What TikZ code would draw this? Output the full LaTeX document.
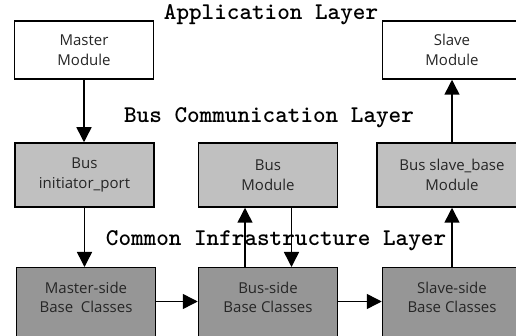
\documentclass[tikz,border=0pt]{standalone}
\usepackage{fontspec}
\setmainfont{Open Sans}
\newfontfamily\layerfamily{lmmonolt10-bold.otf}
\usetikzlibrary{arrows.meta}

\definecolor{busgray}{HTML}{C0C0C0}
\definecolor{basegray}{HTML}{969696}

\begin{document}
\begin{tikzpicture}[x=1pt,y=-1pt,
    box/.style={draw, line width=1.5pt, minimum width=139pt, align=center,
      text=black!85, font=\fontsize{15}{19.5}\selectfont},
    appbox/.style={box, fill=white, minimum height=58pt},
    busbox/.style={box, fill=busgray, minimum height=64pt},
    basebox/.style={box, fill=basegray, anchor=north, inner ysep=14pt, text depth=70pt},
    layer/.style={font=\layerfamily\fontsize{24}{26}\selectfont},
    flow/.style={-{Triangle[length=15pt,width=15pt]}, line width=1.5pt}]
  \useasboundingbox (0,0) rectangle (516,336);

  % 1. Application Layer
  \node[layer] (applayer) at (271,15) {Application Layer};
  \node[appbox] (master) at (84,50) {Master\\Module};
  \node[appbox] (slave) at (452,50) {Slave\\Module};

  % 2. Bus Communication Layer
  \node[layer] (buslayer) at (269,118) {Bus Communication Layer};
  \node[busbox] (initiator) at (84.5,175) {Bus\\initiator\_port};
  \node[busbox] (busmod) at (268,175) {Bus\\Module};
  \node[busbox, minimum width=150pt] (slavebase) at (452,175) {Bus slave\_base\\Module};

  % 3. Common Infrastructure Layer
  \node[layer] (baselayer) at (276,241) {Common Infrastructure Layer};
  \node[basebox] (masterside) at (86,267) {Master-side\\Base\ \ Classes};
  \node[basebox] (busside) at (268,267) {Bus-side\\Base Classes};
  \node[basebox] (slaveside) at (452,267) {Slave-side\\Base Classes};
  \coordinate (mid) at (0,301.5);

  % Arrows between the layers
  \draw[flow] (master.south) -- (master.south |- initiator.north);
  \draw[flow] (initiator.south) -- (initiator.south |- masterside.north);
  \draw[flow] ([xshift=-23pt]busside.north) -- ([xshift=-23pt]busmod.south);
  \draw[flow] ([xshift=23.5pt]busmod.south) -- ([xshift=23.5pt]busside.north);
  \draw[flow] (slaveside.north) -- (slaveside.north |- slavebase.south);
  \draw[flow] (slavebase.north) -- (slavebase.north |- slave.south);

  % Arrows along the bottom
  \draw[flow] (masterside.east |- mid) -- (busside.west |- mid);
  \draw[flow] (busside.east |- mid) -- (slaveside.west |- mid);
\end{tikzpicture}
\end{document}
